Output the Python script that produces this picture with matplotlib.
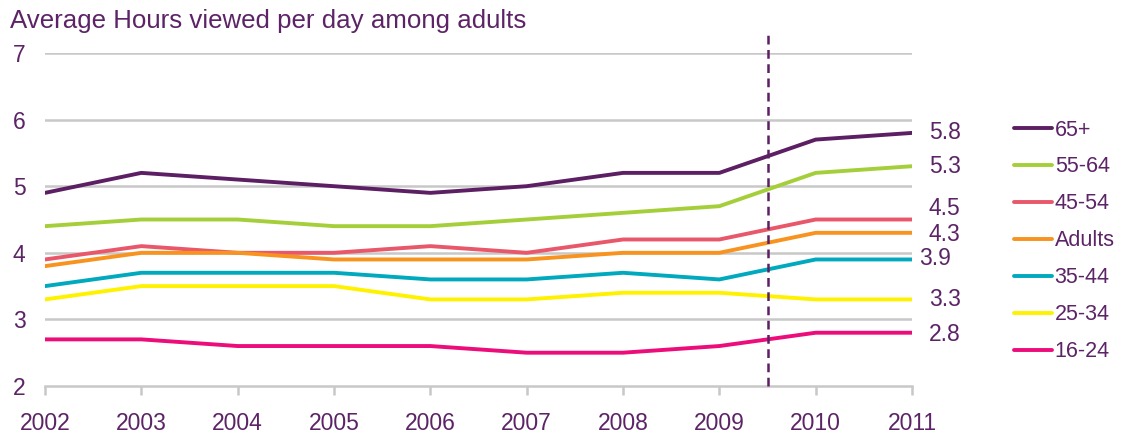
import matplotlib
matplotlib.use("Agg")
import matplotlib.pyplot as plt

plt.rcParams['font.family'] = ['Liberation Sans', 'DejaVu Sans']

years = [2002, 2003, 2004, 2005, 2006, 2007, 2008, 2009, 2010, 2011]
age_65 = [4.9, 5.2, 5.1, 5.0, 4.9, 5.0, 5.2, 5.2, 5.7, 5.8]
age_55_64 = [4.4, 4.5, 4.5, 4.4, 4.4, 4.5, 4.6, 4.7, 5.2, 5.3]
age_45_54 = [3.9, 4.1, 4.0, 4.0, 4.1, 4.0, 4.2, 4.2, 4.5, 4.5]
adults = [3.8, 4.0, 4.0, 3.9, 3.9, 3.9, 4.0, 4.0, 4.3, 4.3]
age_35_44 = [3.5, 3.7, 3.7, 3.7, 3.6, 3.6, 3.7, 3.6, 3.9, 3.9]
age_25_34 = [3.3, 3.5, 3.5, 3.5, 3.3, 3.3, 3.4, 3.4, 3.3, 3.3]
age_16_24 = [2.7, 2.7, 2.6, 2.6, 2.6, 2.5, 2.5, 2.6, 2.8, 2.8]

names = ['65+', '55-64', '45-54', 'Adults', '35-44', '25-34', '16-24']
series = [age_65, age_55_64, age_45_54, adults, age_35_44, age_25_34, age_16_24]
colors = ['#5C1F63', '#A5CF3A', '#E8576A', '#F7931E', '#00A9BD', '#FFF200', '#EC0C7A']
end_labels = ['5.8', '5.3', '4.5', '4.3', '3.9', '3.3', '2.8']
label_y = [5.8, 5.3, 4.67, 4.28, 3.92, 3.3, 2.78]  # nudged so they don't collide
label_dx = [12, 12, 12, 12, 5, 12, 12]

txt = '#5C2466'

fig = plt.figure(figsize=(11.23, 4.36), dpi=100)
ax = fig.add_axes([45/1123, 1-386/436, (912-45)/1123, (386-53)/436])

for yv in [3, 4, 5, 6, 7]:
    ax.axhline(yv, color='#C8C8C8', lw=1.8, zorder=1)

for name, vals, c in zip(names, series, colors):
    ax.plot(years, vals, color=c, lw=2.8, label=name, zorder=3, solid_capstyle='round')

# forecast divider
ax.plot([2009.5, 2009.5], [2, 7.32], color='#5C1F63', lw=1.8, ls=(0, (3.5, 2.2)),
        clip_on=False, zorder=4)

for lab, yv, dx in zip(end_labels, label_y, label_dx):
    ax.annotate(lab, (2011, yv), xytext=(dx, 0), textcoords='offset points',
                va='center', ha='left', fontsize=16.5, color=txt, annotation_clip=False)

ax.set_xlim(2002, 2011)
ax.set_ylim(2, 7)
ax.set_xticks(years)
ax.set_yticks([2, 3, 4, 5, 6, 7])
ax.tick_params(axis='x', colors='#C8C8C8', length=6.5, width=1.8, labelcolor=txt,
               labelsize=16.5, pad=12.5)
ax.tick_params(axis='y', length=0, labelcolor=txt, labelsize=16.5, pad=14)
for s in ['top', 'right', 'left']:
    ax.spines[s].set_visible(False)
ax.spines['bottom'].set_color('#C8C8C8')
ax.spines['bottom'].set_linewidth(1.8)

fig.text(10/1123, 1-21/436, 'Average Hours viewed per day among adults',
         fontsize=18.6, color=txt, va='center', ha='left')

leg = ax.legend(loc='center left', bbox_to_anchor=(1.108, 0.436), frameon=False,
                fontsize=15.5, handlelength=1.75, handletextpad=0.13,
                labelspacing=0.74, borderaxespad=0)
for t in leg.get_texts():
    t.set_color(txt)

fig.savefig('out.png', dpi=100)
